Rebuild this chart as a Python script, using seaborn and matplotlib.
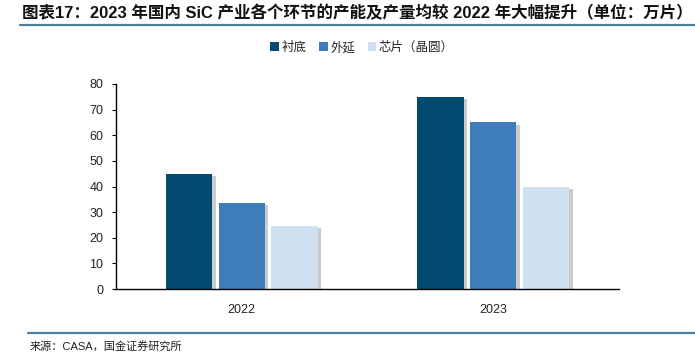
import pandas as pd
import matplotlib
matplotlib.use("Agg")
import matplotlib.pyplot as plt
import matplotlib.patheffects as pe
from matplotlib.lines import Line2D
import seaborn as sns

years = ["2022", "2023"]
segments = ["衬底", "外延", "芯片（晶圆）"]
substrate = [45, 75]
epitaxy = [33.5, 65]
chip = [24.5, 40]

COLORS = ["#024a70", "#3f7dba", "#cfe0f1"]
RULE = "#4f7f9c"

sns.set_theme(style="white")
plt.rcParams["font.family"] = ["Liberation Sans", "Noto Sans CJK SC", "DejaVu Sans"]

df = pd.DataFrame({
    "year": years * 3,
    "segment": [s for s in segments for _ in years],
    "value": substrate + epitaxy + chip,
})

fig = plt.figure(figsize=(6.95, 3.53), dpi=100)
ax = fig.add_axes([116 / 695, 1 - 289 / 353, (619 - 116) / 695, (289 - 84) / 353])

sns.barplot(data=df, x="year", y="value", hue="segment", hue_order=segments,
            palette=COLORS, saturation=1, width=0.63, gap=0.12, ax=ax, legend=True)

# soft drop shadow like the original report graphic
shadow = [pe.SimplePatchShadow(offset=(2.5, -1.5), shadow_rgbFace="#999999", alpha=0.5), pe.Normal()]
for p in ax.patches:
    p.set_linewidth(0)
    p.set_path_effects(shadow)

ax.set_ylim(0, 80)
ax.set_yticks(range(0, 81, 10))
ax.set_xlim(-0.5, 1.5)
ax.set_xlabel("")
ax.set_ylabel("")
for side in ["top", "right"]:
    ax.spines[side].set_visible(False)
for side in ["left", "bottom"]:
    ax.spines[side].set_color("black")
    ax.spines[side].set_linewidth(1.0)
ax.tick_params(axis="y", left=True, length=3, width=0.8, color="black", labelsize=9, pad=6)
ax.tick_params(axis="x", bottom=False, labelsize=9, pad=5)
for lab in ax.get_xticklabels() + ax.get_yticklabels():
    lab.set_color("#222222")

handles, labels = ax.get_legend_handles_labels()
ax.legend_.remove()
leg = fig.legend(handles, labels, loc="center", bbox_to_anchor=(362 / 695, 1 - 48 / 353), ncol=3,
                 frameon=False, fontsize=9, handlelength=0.7, handleheight=0.7, handletextpad=0.2,
                 columnspacing=1.0)
for h in leg.legend_handles:
    h.set_path_effects([])

fig.text(22 / 695, 1 - 13 / 353, "图表17：2023 年国内 SiC 产业各个环节的产能及产量均较 2022 年大幅提升（单位：万片）",
         fontsize=11.9, fontweight="bold", va="center", ha="left", color="#111111")
fig.add_artist(Line2D([20 / 695, 1], [1 - 25 / 353] * 2, color=RULE, linewidth=1.6))
fig.add_artist(Line2D([28 / 695, 1], [1 - 333 / 353] * 2, color=RULE, linewidth=1.6))
fig.text(30 / 695, 1 - 346 / 353, "来源：CASA，国金证券研究所", fontsize=8, va="center", ha="left", color="#222222")

fig.savefig("out.png", dpi=100)
